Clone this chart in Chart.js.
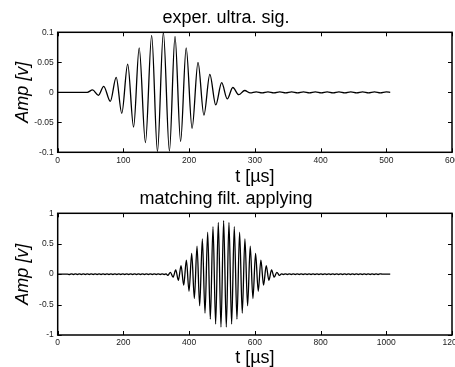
<!DOCTYPE html>
<html>
<head>
<meta charset="utf-8">
<script src="https://cdn.jsdelivr.net/npm/chart.js@4"></script>
<style>
  html, body { margin: 0; padding: 0; background: #fff; overflow: hidden; width: 455px; height: 367px; }
  #sigChart { position: absolute; left: 0; top: 0; }
  #filtChart { position: absolute; left: 0; top: 185px; }
</style>
</head>
<body>
<canvas id="sigChart" width="480" height="200"></canvas>
<canvas id="filtChart" width="480" height="182"></canvas>
<script>
const sigTime = [0, 45, 53, 62, 70, 80, 89, 97.5, 106.5, 115.5, 124, 133.5, 143, 151.8, 160.8,
  170, 178.5, 187, 195.5, 204.5, 213.5, 222.5, 231.5, 240.5, 249.5, 258, 266.5, 275.5, 284.5, 293,
  302, 311, 320, 329, 338, 347, 356, 365, 374, 383, 392, 401, 410, 419, 428, 437, 446, 455,
  464, 473, 482, 491, 500, 506];
const sigAmp = [0, 0, 0.004, -0.005, 0.010, -0.015, 0.025, -0.035, 0.047, -0.058, 0.074, -0.084, 0.095, -0.099, 0.100,
  -0.098, 0.093, -0.082, 0.074, -0.060, 0.050, -0.038, 0.030, -0.021, 0.016, -0.011, 0.008, -0.004, 0.003, -0.001,
  0.0008, -0.0008, 0.0008, -0.0008, 0.0008, -0.0008, 0.0008, -0.0008, 0.0008, -0.0008, 0.0008, -0.0008, 0.0008, -0.0008, 0.0008, -0.0008, 0.0008, -0.0008,
  0.0008, -0.0008, 0.0008, -0.0008, 0.0008, 0];

// matched filter output
const filtTime = [0, 30,
  36, 42, 48, 54, 60, 66, 72, 78, 84, 90, 96, 102, 108, 114, 120, 126, 132, 138, 144, 150, 156, 162, 168, 174, 180,
  186, 192, 198, 204, 210, 216, 222, 228, 234, 240, 246, 252, 258, 264, 270, 276, 282, 288, 294, 300, 306, 312, 318, 324, 330,
  334.9, 343.0, 351.1, 359.2, 367.3, 375.4, 383.5, 391.6, 399.7, 407.8, 415.9, 424.0, 432.1, 440.2, 448.3, 456.4, 464.5,
  472.6, 480.7, 488.8, 496.9, 505.0, 513.1, 521.2, 529.3, 537.4, 545.5, 553.6, 561.7, 569.8, 577.9, 586.0, 594.1, 602.2,
  610.3, 618.4, 626.5, 634.6, 642.7, 650.8, 658.9, 667.0, 675.1,
  681, 687, 693, 699, 705, 711, 717, 723, 729, 735, 741, 747, 753, 759, 765, 771, 777, 783, 789, 795, 801, 807, 813, 819, 825,
  831, 837, 843, 849, 855, 861, 867, 873, 879, 885, 891, 897, 903, 909, 915, 921, 927, 933, 939, 945, 951, 957, 963, 969, 975, 981,
  987, 1012];
const filtAmp = [0, 0,
  -0.006, 0.006, -0.006, 0.006, -0.006, 0.006, -0.006, 0.006, -0.006, 0.006, -0.006, 0.006, -0.006, 0.006, -0.006, 0.006, -0.006, 0.006, -0.006, 0.006, -0.006, 0.006, -0.006, 0.006, -0.006,
  0.006, -0.006, 0.006, -0.006, 0.006, -0.006, 0.006, -0.006, 0.006, -0.006, 0.006, -0.006, 0.006, -0.006, 0.006, -0.006, 0.006, -0.006, 0.006, -0.006, 0.006, -0.006, 0.006, -0.006, 0.006,
  -0.02, 0.03, -0.05, 0.07, -0.10, 0.14, -0.18, 0.23, -0.28, 0.34, -0.40, 0.46, -0.52, 0.58, -0.64, 0.69, -0.74,
  0.78, -0.82, 0.85, -0.87, 0.88, -0.87, 0.85, -0.82, 0.78, -0.74, 0.69, -0.64, 0.58, -0.52, 0.46, -0.40, 0.34,
  -0.28, 0.23, -0.18, 0.14, -0.10, 0.07, -0.05, 0.03, -0.02,
  0.006, -0.006, 0.006, -0.006, 0.006, -0.006, 0.006, -0.006, 0.006, -0.006, 0.006, -0.006, 0.006, -0.006, 0.006, -0.006, 0.006, -0.006, 0.006, -0.006, 0.006, -0.006, 0.006, -0.006, 0.006,
  -0.006, 0.006, -0.006, 0.006, -0.006, 0.006, -0.006, 0.006, -0.006, 0.006, -0.006, 0.006, -0.006, 0.006, -0.006, 0.006, -0.006, 0.006, -0.006, 0.006, -0.006, 0.006, -0.006, 0.006, -0.006, 0.006,
  0, 0];

const sigXTicks = ['0', '100', '200', '300', '400', '500', '600'];
const sigYTicks = ['-0.1', '-0.05', '0', '0.05', '0.1'];
const filtXTicks = ['0', '200', '400', '600', '800', '1000', '1200'];
const filtYTicks = ['-1', '-0.5', '0', '0.5', '1'];

const FONT = "'Liberation Sans', Arial, sans-serif";

// matlab style box with inward ticks on all four sides
const boxPlugin = {
  id: 'box',
  afterDraw(chart) {
    const { ctx, chartArea: a, scales: { x, y } } = chart;
    ctx.save();
    ctx.strokeStyle = '#000';
    ctx.lineWidth = 1;
    ctx.beginPath();
    x.ticks.forEach(t => {
      const px = Math.round(x.getPixelForValue(t.value)) + 0.5;
      ctx.moveTo(px, a.bottom); ctx.lineTo(px, a.bottom - 4);
      ctx.moveTo(px, a.top); ctx.lineTo(px, a.top + 4);
    });
    y.ticks.forEach(t => {
      const py = Math.round(y.getPixelForValue(t.value)) + 0.5;
      ctx.moveTo(a.left, py); ctx.lineTo(a.left + 4, py);
      ctx.moveTo(a.right, py); ctx.lineTo(a.right - 4, py);
    });
    ctx.stroke();
    ctx.lineWidth = 1.5;
    ctx.strokeRect(a.left, a.top, a.right - a.left, a.bottom - a.top);
    ctx.restore();
  }
};

function makeChart(id, cfg) {
  const points = cfg.time.map((t, i) => ({ x: t, y: cfg.amp[i] }));
  return new Chart(document.getElementById(id), {
    type: 'line',
    data: {
      datasets: [{
        data: points,
        borderColor: '#000',
        borderWidth: 1.3,
        pointRadius: 0,
        cubicInterpolationMode: 'monotone',
        fill: false
      }]
    },
    options: {
      responsive: false,
      animation: false,
      layout: { padding: { left: 0, right: 28, top: 0, bottom: cfg.padBottom } },
      plugins: {
        legend: { display: false },
        tooltip: { enabled: false },
        title: {
          display: true,
          text: cfg.title,
          color: '#000',
          font: { family: FONT, size: 18, weight: 'normal', lineHeight: 1.2 },
          padding: cfg.titlePad
        }
      },
      scales: {
        x: {
          type: 'linear',
          min: 0,
          max: cfg.xMax,
          afterFit: s => { s.height = cfg.xHeight; },
          grid: { display: false, drawTicks: false, tickLength: 0 },
          border: { display: false },
          ticks: {
            stepSize: cfg.xStep,
            maxRotation: 0,
            autoSkip: false,
            padding: 3,
            color: '#1a1a1a',
            font: { family: FONT, size: 8.5 },
            callback: (v, i) => cfg.xLabels[i]
          },
          title: {
            display: true,
            text: 't [µs]',
            color: '#000',
            font: { family: FONT, size: 18, lineHeight: 1 },
            padding: { top: 0, bottom: 0 }
          }
        },
        y: {
          min: -cfg.yMax,
          max: cfg.yMax,
          afterFit: s => { s.width = 57.7; },
          grid: { display: false, drawTicks: false, tickLength: 0 },
          border: { display: false },
          ticks: {
            stepSize: cfg.yMax / 2,
            padding: 4,
            color: '#1a1a1a',
            font: { family: FONT, size: 8.5 },
            callback: (v, i) => cfg.yLabels[i]
          },
          title: {
            display: true,
            text: 'Amp [v]',
            color: '#000',
            font: { family: FONT, size: 18, style: 'italic', lineHeight: 1 },
            padding: { top: 13.5, bottom: 0 }
          }
        }
      }
    },
    plugins: [boxPlugin]
  });
}

makeChart('sigChart', {
  time: sigTime, amp: sigAmp,
  title: 'exper. ultra. sig.',
  titlePad: { top: 7.2, bottom: 3.5 },
  xMax: 600, xStep: 100, yMax: 0.1,
  xLabels: sigXTicks, yLabels: sigYTicks,
  xHeight: 33.7, padBottom: 14
});

makeChart('filtChart', {
  time: filtTime, amp: filtAmp,
  title: 'matching filt. applying',
  titlePad: { top: 3.2, bottom: 3.5 },
  xMax: 1200, xStep: 200, yMax: 1,
  xLabels: filtXTicks, yLabels: filtYTicks,
  xHeight: 32, padBottom: 0
});
</script>
</body>
</html>
